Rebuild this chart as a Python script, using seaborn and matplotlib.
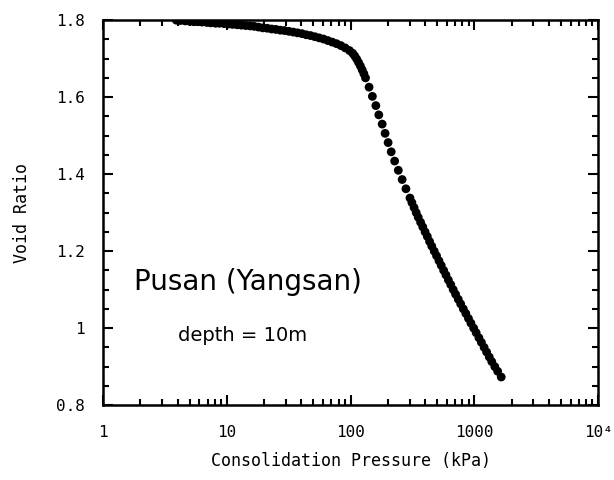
import matplotlib
matplotlib.use("Agg")
import matplotlib.pyplot as plt
import matplotlib.ticker as mticker
import seaborn as sns
import pandas as pd

# Consolidation test results (pressure in kPa, void ratio)
pressure_kpa = [
    3.9, 4.2, 4.6, 5.0, 5.4, 5.8, 6.3, 6.9, 7.4, 8.1, 8.7, 9.5, 10.3, 11.1,
    12.1, 13.1, 14.2, 15.4, 16.6, 18.0, 19.5, 21.2, 23.0, 24.9, 27.0, 29.2,
    31.7, 34.4, 37.2, 40.4, 43.8, 47.4, 51.4, 55.7, 60.4, 65.5, 71.0, 76.9,
    83.4, 90.4, 98.0,
    104, 108, 112, 116, 120, 124, 128, 132,
    141, 150, 160, 169, 180, 190, 201, 213, 227, 243, 261, 280, 302,
    313, 326, 339, 352, 368, 383, 400, 417, 435, 453, 474, 495, 518, 540,
    565, 590, 617, 645, 675, 706, 741, 776, 815, 854, 897, 939, 988, 1035,
    1089, 1141, 1200, 1257, 1321, 1384, 1464, 1544, 1650,
]
void_ratio = [
    1.800, 1.799, 1.798, 1.797, 1.796, 1.796, 1.795, 1.794, 1.793, 1.792,
    1.792, 1.791, 1.790, 1.789, 1.788, 1.787, 1.786, 1.785, 1.784, 1.782,
    1.780, 1.779, 1.777, 1.776, 1.774, 1.773, 1.771, 1.769, 1.767, 1.765,
    1.762, 1.760, 1.757, 1.754, 1.751, 1.747, 1.743, 1.739, 1.734, 1.728,
    1.721,
    1.714, 1.707, 1.699, 1.690, 1.681, 1.671, 1.661, 1.650,
    1.626, 1.602, 1.578, 1.554, 1.530, 1.506, 1.482, 1.458, 1.434, 1.410,
    1.386, 1.362, 1.338,
    1.326, 1.313, 1.300, 1.288, 1.275, 1.263, 1.250, 1.238, 1.225, 1.213,
    1.200, 1.188, 1.175, 1.163, 1.150, 1.138, 1.125, 1.113, 1.100, 1.088,
    1.075, 1.063, 1.050, 1.038, 1.025, 1.013, 1.000, 0.988, 0.975, 0.963,
    0.950, 0.938, 0.925, 0.913, 0.900, 0.888, 0.873,
]

x_ticks = [1, 10, 100, 1000, 10000]
x_tick_labels = ["1", "10", "100", "1000", "10\u2074"]
y_ticks = [0.8, 1.0, 1.2, 1.4, 1.6, 1.8]
y_tick_labels = ["0.8", "1", "1.2", "1.4", "1.6", "1.8"]

site_label = "Pusan (Yangsan)"
depth_label = "depth = 10m"

df = pd.DataFrame({"Pressure": pressure_kpa, "VoidRatio": void_ratio})

sns.set_style("ticks")
plt.rcParams["font.family"] = ["DejaVu Sans Mono", "DejaVu Sans"]
plt.rcParams["text.color"] = "black"
plt.rcParams["axes.labelcolor"] = "black"
plt.rcParams["xtick.color"] = "black"
plt.rcParams["ytick.color"] = "black"

fig = plt.figure(figsize=(6.14, 4.80), dpi=100)
ax = fig.add_axes([0.168, 0.156, 0.806, 0.802])

sns.scatterplot(data=df, x="Pressure", y="VoidRatio", ax=ax, color="black",
                s=40, edgecolor="none", linewidth=0, legend=False)

ax.set_xscale("log")
ax.set_xlim(1, 10000)
ax.set_ylim(0.8, 1.8)

ax.set_xticks(x_ticks)
ax.set_xticklabels(x_tick_labels)
ax.xaxis.set_minor_locator(mticker.LogLocator(base=10, subs=range(2, 10), numticks=20))
ax.xaxis.set_minor_formatter(mticker.NullFormatter())
ax.set_yticks(y_ticks)
ax.set_yticklabels(y_tick_labels)
ax.yaxis.set_minor_locator(mticker.MultipleLocator(0.05))

for spine in ax.spines.values():
    spine.set_visible(True)
    spine.set_linewidth(1.8)
    spine.set_color("black")

ax.tick_params(which="both", direction="in", top=True, right=True,
               color="black", width=1.5, labelcolor="black")
ax.tick_params(which="major", length=7, labelsize=11.5)
ax.tick_params(axis="y", which="major", pad=13)
ax.tick_params(axis="x", which="major", pad=14)
ax.tick_params(which="minor", length=4)

ax.set_xlabel("Consolidation Pressure (kPa)", fontsize=12, labelpad=9)
ax.set_ylabel("Void Ratio", fontsize=12, labelpad=18)

ax.text(0.063, 0.32, site_label, transform=ax.transAxes, fontsize=20,
        family="DejaVu Sans", va="center", ha="left", color="black")
ax.text(0.152, 0.18, depth_label, transform=ax.transAxes, fontsize=14,
        family="DejaVu Sans", va="center", ha="left", color="black")

fig.savefig("out.png", dpi=100)
